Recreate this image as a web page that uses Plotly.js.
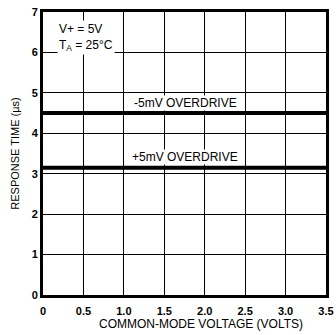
<!DOCTYPE html>
<html><head><meta charset="utf-8">
<script src="https://cdn.plot.ly/plotly-3.0.1.min.js"></script>
<style>html,body{margin:0;padding:0;background:#fff;}#chart{width:336px;height:335px;}</style>
</head><body><div id="chart"></div>
<script>
const voltage = [0, 3.5];
const negOverdrive = [4.5, 4.5];
const posOverdrive = [3.15, 3.15];
const xTicks = [0, 0.5, 1.0, 1.5, 2.0, 2.5, 3.0, 3.5];
const xTickText = ['0', '0.5', '1.0', '1.5', '2.0', '2.5', '3.0', '3.5'];
const yTicks = [0, 1, 2, 3, 4, 5, 6, 7];

const FAM = 'Liberation Sans, Arial, sans-serif';
const traces = [
  {x: voltage, y: negOverdrive, mode: 'lines', line: {color: '#000', width: 4}, hoverinfo: 'skip'},
  {x: voltage, y: posOverdrive, mode: 'lines', line: {color: '#000', width: 4}, hoverinfo: 'skip'}
];
const tf = {family: FAM, size: 11, color: '#000', weight: 'bold'};
const layout = {
  width: 336, height: 335,
  margin: {l: 43, r: 10, t: 12, b: 40},
  showlegend: false,
  paper_bgcolor: '#fff', plot_bgcolor: '#fff',
  xaxis: {
    range: [0, 3.5], tickvals: xTicks, ticktext: xTickText,
    showgrid: true, gridcolor: '#000', gridwidth: 1, zeroline: false,
    showline: true, linecolor: '#000', linewidth: 3, mirror: true,
    ticks: '', tickfont: tf, ticklabelstandoff: 4
  },
  yaxis: {
    range: [0, 7], tickvals: yTicks,
    showgrid: true, gridcolor: '#000', gridwidth: 1, zeroline: false,
    showline: true, linecolor: '#000', linewidth: 3, mirror: true,
    ticks: '', tickfont: tf,
    title: {text: 'RESPONSE TIME (µs)', font: {family: FAM, size: 11, color: '#000'}, standoff: 10}
  },
  annotations: [
    {x: 0.558, y: -0.102, xref: 'paper', yref: 'paper', yanchor: 'middle', text: 'COMMON-MODE VOLTAGE (VOLTS)', showarrow: false, font: {family: FAM, size: 12, color: '#000'}},
    {x: 1.76, y: 4.56, xref: 'x', yref: 'y', yanchor: 'bottom', text: '-5mV OVERDRIVE', showarrow: false, bgcolor: '#fff', font: {family: FAM, size: 12, color: '#000'}, borderpad: 0},
    {x: 1.76, y: 3.21, xref: 'x', yref: 'y', yanchor: 'bottom', text: '+5mV OVERDRIVE', showarrow: false, bgcolor: '#fff', font: {family: FAM, size: 12, color: '#000'}, borderpad: 0},
    {x: 0.17, y: 6.37, xref: 'x', yref: 'y', xanchor: 'left', align: 'left', text: 'V+ = 5V<br>T<sub>A</sub> = 25°C', showarrow: false, bgcolor: '#fff', font: {family: FAM, size: 12, color: '#000'}}
  ]
};
Plotly.newPlot('chart', traces, layout, {staticPlot: true, displayModeBar: false});
</script></body></html>
